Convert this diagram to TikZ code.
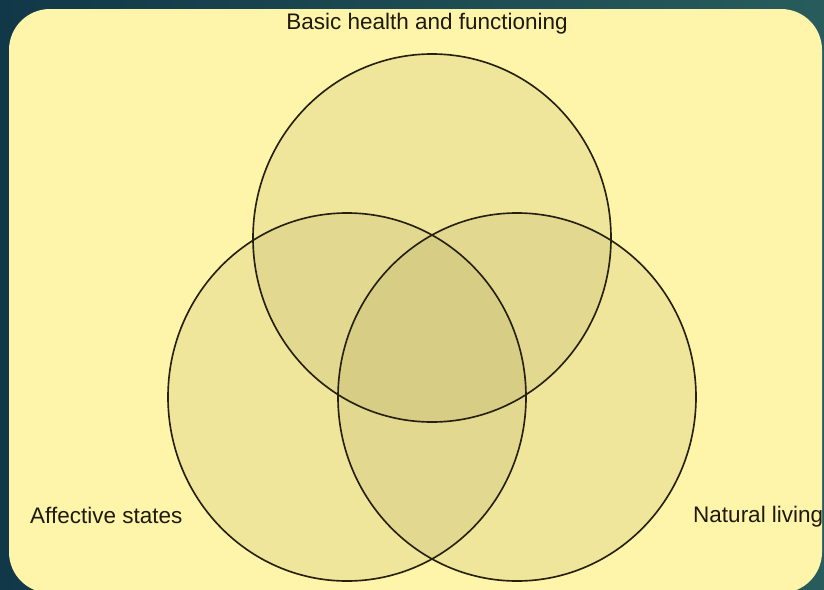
\documentclass[tikz,border=0pt]{standalone}
\usepackage{fontspec}
\setmainfont{Liberation Sans}

\definecolor{bgleft}{RGB}{17,56,72}
\definecolor{bgright}{RGB}{40,92,92}
\definecolor{panel}{RGB}{255,245,170}
\definecolor{setcol}{RGB}{175,165,95}
\definecolor{rim}{RGB}{38,33,14}
\definecolor{ink}{RGB}{30,26,14}

\tikzset{
  set fill/.style={fill=setcol, fill opacity=0.2},
  set rim/.style={draw=rim, line width=1.4pt},
  set label/.style={text=ink, inner sep=0pt, font=\fontsize{19.2}{22}\selectfont}
}

\begin{document}
\begin{tikzpicture}[x=0.03cm, y=-0.03cm]

\useasboundingbox (0,0) rectangle (824,589);
\shade [left color=bgleft, right color=bgright] (0,0) rectangle (824,589);

% yellow card, bottom edge runs off the page
\begin{scope}
  \clip (0,0) rectangle (824,589);
  \fill [panel, rounded corners=1.23cm] (9,9) rectangle (822,593);
\end{scope}

\coordinate (health-c) at (432,238);
\coordinate (affect-c) at (347,397);
\coordinate (nature-c) at (517,397);

% the three sets: fill first, outlines on top
\foreach \s in {health, affect, nature}
  \fill [set fill] (\s-c) ellipse [x radius=179, y radius=184];

\foreach \s in {health, affect, nature}
  \draw [set rim] (\s-c) ellipse [x radius=179, y radius=184];

\node [set label, anchor=base] (health) at (427,29) {Basic health and functioning};
\node [set label, anchor=base west] (affect) at (30,523) {Affective states};
\node [set label, anchor=base west] (nature) at (693,522) {Natural living};

\end{tikzpicture}
\end{document}
